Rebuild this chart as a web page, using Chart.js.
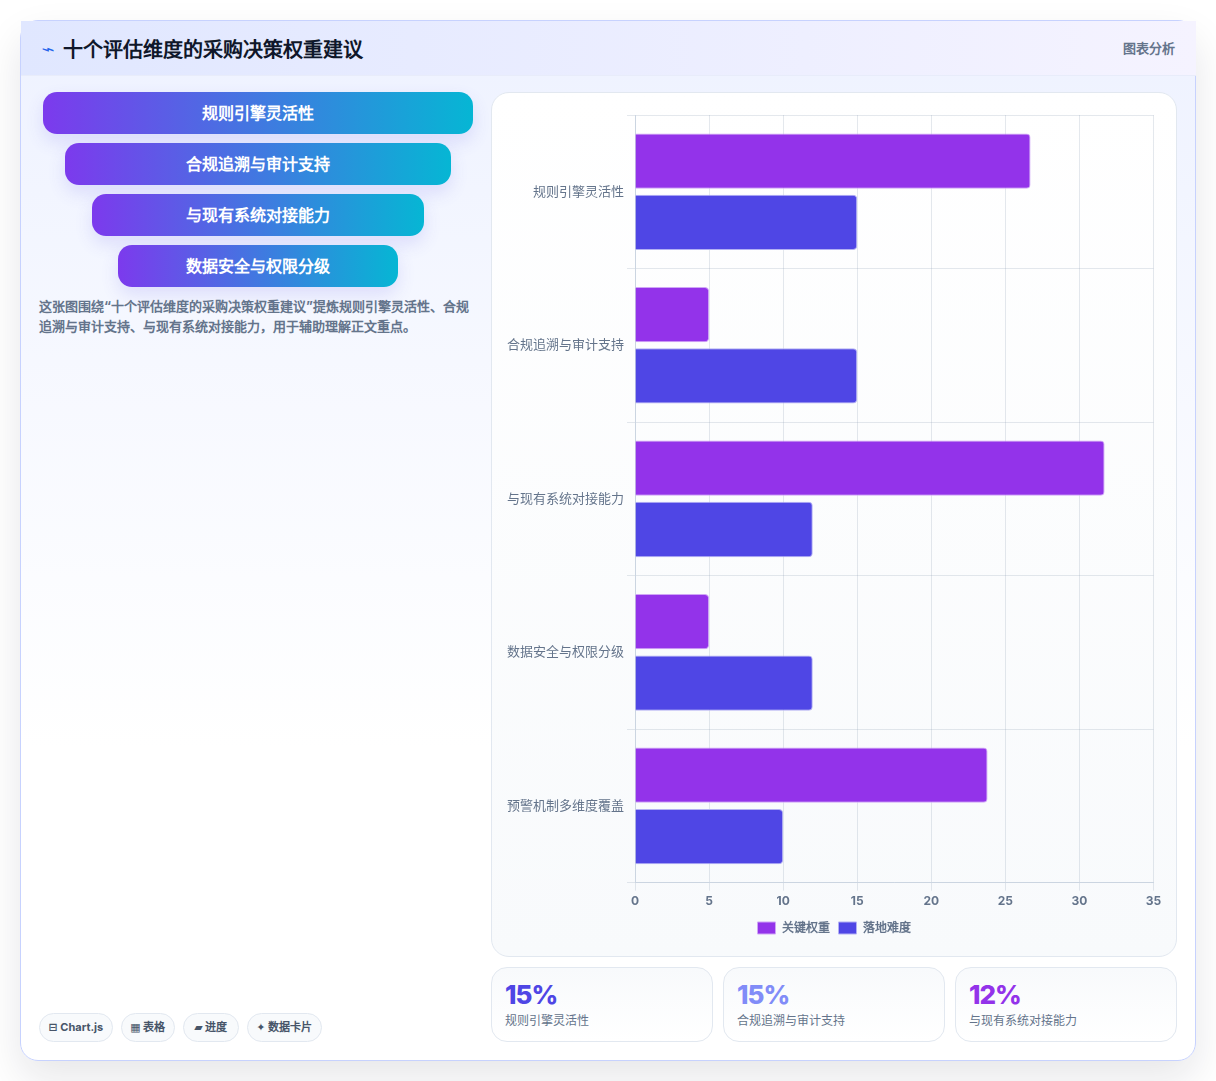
<!DOCTYPE html>
<html lang="zh-CN">
<head>
<meta charset="utf-8">
<title>十个评估维度的采购决策权重建议</title>
<script src="https://cdn.jsdelivr.net/npm/chart.js@4/dist/chart.umd.min.js"></script>
<style>
  * { box-sizing: border-box; margin: 0; padding: 0; }
  html, body { width: 1216px; height: 1081px; background: #fff; overflow: hidden; }
  body { font-family: Inter, "DejaVu Sans", sans-serif; position: relative; }
  .card {
    position: absolute; left: 20px; top: 20px; width: 1176px; height: 1041px;
    border: 1px solid #c7d2fe; border-radius: 18px;
    background: linear-gradient(180deg, #eef2ff 0%, #ffffff 70%);
    box-shadow: 0 18px 40px rgba(15, 23, 42, 0.1);
  }
  .header {
    position: absolute; left: 0; top: 0; width: 1175px; height: 55px;
    background: linear-gradient(90deg, #e0e7ff, #f5f3ff);
    border-bottom: 1px solid #e8ecfa;
    display: flex; align-items: center; padding: 0 21px 0 20px;
  }
  .header .icon {
    display: inline-block; color: #2563eb; font-size: 14px; width: 21.5px;
    transform: scaleX(1.6); transform-origin: left center;
  }
  .header h1 { font-size: 20px; font-weight: 700; color: #0f172a; flex: 1; }
  .header .tag { font-size: 13px; font-weight: 700; color: #64748b; margin-top: -2px; }
  .left { position: absolute; left: 18px; top: 71px; width: 438px; height: 950px; }
  .pill {
    height: 42px; margin: 0 auto 9px; border-radius: 14px; color: #fff;
    font-size: 16px; font-weight: 700; line-height: 42px; text-align: center;
    background: linear-gradient(90deg, #7c3aed, #06b6d4);
    box-shadow: 0 8px 18px rgba(79, 70, 229, 0.14);
  }
  .desc { font-size: 13px; font-weight: 700; line-height: 20px; color: #64748b; margin-top: 9px; }
  .chips { position: absolute; left: 0; bottom: 0; display: flex; gap: 8px; }
  .chip {
    height: 29px; padding: 0 8.5px; border: 1px solid #e2e8f0; border-radius: 15px;
    background: #f8fafc; font-size: 11px; font-weight: 700; color: #475569;
    line-height: 27px; text-align: center; white-space: nowrap;
  }
  .chip:nth-child(3) { min-width: 56px; }
  .panel {
    position: absolute; left: 470px; top: 71px; width: 686px; height: 865px;
    background: linear-gradient(180deg, #ffffff, #f8fafc);
    border: 1px solid #e2e8f0; border-radius: 18px;
  }
  #chart { position: absolute; left: 14px; top: 0; }
  .stats { position: absolute; left: 470px; top: 946px; width: 686px; display: flex; gap: 10px; }
  .stat {
    flex: 1; height: 75px; padding: 11px 13px 0; border: 1px solid #e2e8f0; border-radius: 16px;
    background: linear-gradient(180deg, #f8fafc, #ffffff);
  }
  .stat b { display: block; font-size: 26px; font-weight: 800; line-height: 32px; letter-spacing: -1px; }
  .stat span { display: block; font-size: 12px; line-height: 20px; color: #64748b; }
</style>
</head>
<body>
<div class="card">
  <div class="header">
    <span class="icon">⌁</span>
    <h1>十个评估维度的采购决策权重建议</h1>
    <span class="tag">图表分析</span>
  </div>
  <div class="left">
    <div id="funnel"></div>
    <p class="desc">这张图围绕“十个评估维度的采购决策权重建议”提炼规则引擎灵活性、合规追溯与审计支持、与现有系统对接能力，用于辅助理解正文重点。</p>
    <div class="chips" id="chips"></div>
  </div>
  <div class="panel"><canvas id="chart" width="656" height="863"></canvas></div>
  <div class="stats" id="stats"></div>
</div>
<script>
const categories = ['规则引擎灵活性', '合规追溯与审计支持', '与现有系统对接能力', '数据安全与权限分级', '预警机制多维度覆盖'];
const keyWeight = [26.7, 5, 31.7, 5, 23.8];
const difficulty = [15, 15, 12, 12, 10];
const funnelLabels = ['规则引擎灵活性', '合规追溯与审计支持', '与现有系统对接能力', '数据安全与权限分级'];
const funnelWidths = ['98%', '88%', '76%', '64%'];
const chipLabels = ['⊟ Chart.js', '▦ 表格', '▰ 进度', '✦ 数据卡片'];
const statValues = ['15%', '15%', '12%'];
const statLabels = ['规则引擎灵活性', '合规追溯与审计支持', '与现有系统对接能力'];
const statColors = ['#4f46e5', '#818cf8', '#9333ea'];

document.getElementById('funnel').innerHTML = funnelLabels.map((label, i) =>
  `<div class="pill" style="width:${funnelWidths[i]}">${label}</div>`).join('');
document.getElementById('chips').innerHTML = chipLabels.map((label) =>
  `<span class="chip">${label}</span>`).join('');
document.getElementById('stats').innerHTML = statValues.map((value, i) =>
  `<div class="stat"><b style="color:${statColors[i]}">${value}</b><span>${statLabels[i]}</span></div>`).join('');

const chartFont = 'Inter, sans-serif';

new Chart(document.getElementById('chart').getContext('2d'), {
  type: 'bar',
  data: {
    labels: categories,
    datasets: [
      { label: '关键权重', data: keyWeight, backgroundColor: '#9333ea', borderColor: '#cfa6f6', borderWidth: 1, borderRadius: 4, borderSkipped: 'start' },
      { label: '落地难度', data: difficulty, backgroundColor: '#4f46e5', borderColor: '#b3b0f3', borderWidth: 1, borderRadius: 4, borderSkipped: 'start' }
    ]
  },
  options: {
    indexAxis: 'y',
    responsive: false,
    animation: false,
    layout: { padding: { top: 22, bottom: 12 } },
    scales: {
      x: {
        min: 0,
        max: 35,
        // the last tick label only needs half its width past the plot edge
        afterFit: (scale) => { scale.paddingRight = 8.5; },
        ticks: { stepSize: 5, padding: 4, color: '#64748b', font: { family: chartFont, size: 12, weight: '700' } },
        grid: { color: 'rgba(148, 163, 184, 0.25)' },
        border: { color: '#cbd5e1' }
      },
      y: {
        // trims the spare room chart.js leaves left of the category labels
        afterFit: (scale) => { scale.width -= 2; },
        ticks: { color: '#64748b', font: { family: chartFont, size: 13 } },
        grid: { color: 'rgba(148, 163, 184, 0.25)' },
        border: { color: '#cbd5e1' }
      }
    },
    plugins: {
      legend: {
        position: 'bottom',
        labels: { boxWidth: 18, boxHeight: 12, padding: 9, color: '#64748b', font: { family: chartFont, size: 12, weight: '700' } }
      },
      tooltip: { enabled: false }
    }
  }
});
</script>
</body>
</html>
